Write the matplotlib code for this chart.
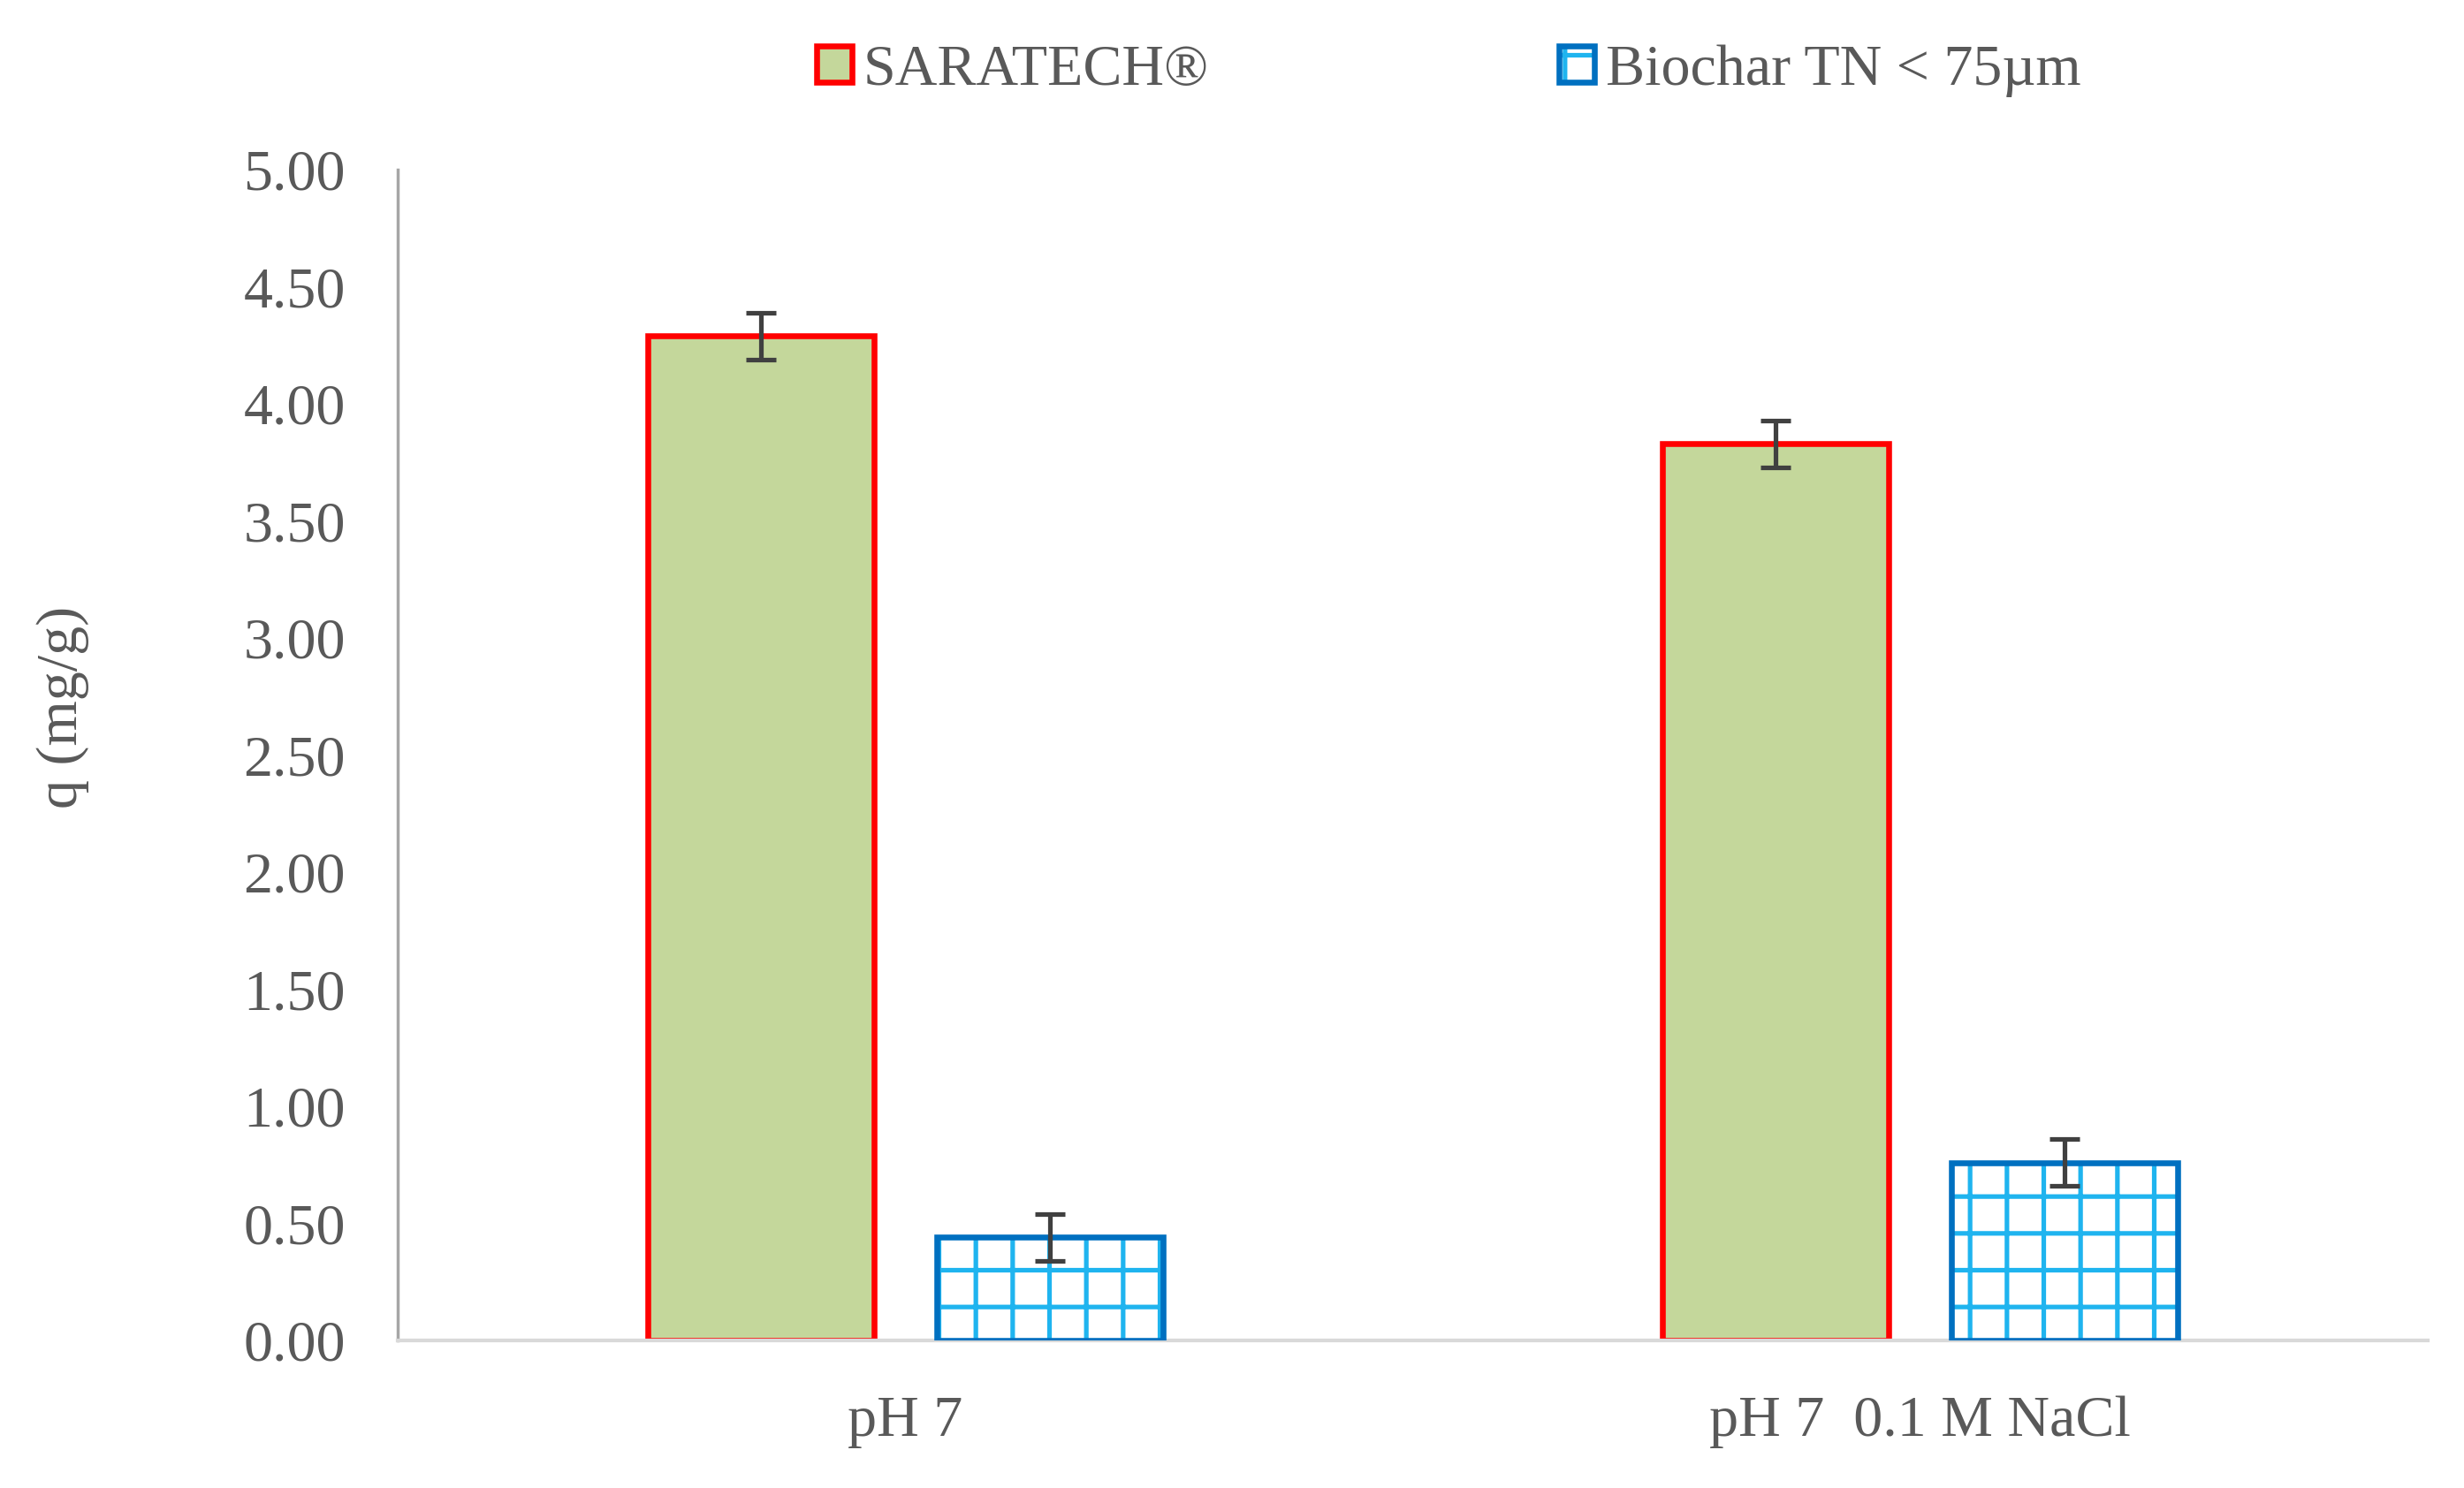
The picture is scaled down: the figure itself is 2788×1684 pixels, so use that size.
import matplotlib
matplotlib.use("Agg")
import matplotlib.pyplot as plt
import numpy as np

# data
categories = ["pH 7", "pH 7  0.1 M NaCl"]
saratech = [4.29, 3.83]
saratech_err = [0.10, 0.10]
biochar = [0.44, 0.76]
biochar_err = [0.10, 0.10]
series_names = ["SARATECH®", "Biochar TN < 75µm"]
yticks = np.arange(0, 5.01, 0.5)

grey_txt = "#595959"
plt.rcParams["font.family"] = ["Liberation Serif", "DejaVu Serif"]
plt.rcParams["hatch.linewidth"] = 1.5
plt.rcParams["hatch.color"] = "#1fb4ef"

fig = plt.figure(figsize=(2788 / 250, 1684 / 250), dpi=250)
ax = fig.add_axes([0.1614, 0.0992, 0.9853 - 0.1614, 0.886 - 0.0992])

x = np.arange(len(categories))
w = 0.223
off = 0.1424

green = ax.bar(x - off, saratech, w, color="#c4d79b", edgecolor="#ff0000",
               linewidth=1.9, zorder=2)
blue_h = ax.bar(x + off, biochar, w, color="white", edgecolor="#1fb4ef",
                hatch="+", linewidth=0, zorder=2)
blue_e = ax.bar(x + off, biochar, w, color="none", edgecolor="#0070c0",
                linewidth=1.9, zorder=3)

ax.errorbar(x - off, saratech, yerr=saratech_err, fmt="none", ecolor="#404040",
            elinewidth=1.5, capsize=4.8, capthick=1.5, zorder=4)
ax.errorbar(x + off, biochar, yerr=biochar_err, fmt="none", ecolor="#404040",
            elinewidth=1.5, capsize=4.8, capthick=1.5, zorder=4)

ax.set_xlim(-0.5, 1.5)
ax.set_ylim(0, 5.0)
ax.set_yticks(yticks)
ax.set_yticklabels([f"{v:.2f}" for v in yticks])
ax.set_xticks(x)
ax.set_xticklabels(categories)
ax.tick_params(axis="both", length=0, labelsize=19, labelcolor=grey_txt)
ax.tick_params(axis="y", pad=17)
ax.tick_params(axis="x", pad=18)

for s in ["top", "right"]:
    ax.spines[s].set_visible(False)
ax.spines["left"].set_color("#a6a6a6")
ax.spines["left"].set_linewidth(1.0)
ax.spines["bottom"].set_color("#d9d9d9")
ax.spines["bottom"].set_linewidth(1.2)

fig.text(71 / 2788, 1 - 800 / 1684, "q (mg/g)", rotation=90, fontsize=19,
         color=grey_txt, ha="center", va="center")

fig.legend([green, (blue_h, blue_e)], series_names, ncol=2, loc="center",
           bbox_to_anchor=(0.588, 1 - 80 / 1684), frameon=False, fontsize=19,
           labelcolor=grey_txt, handlelength=0.6, handleheight=0.6,
           handletextpad=0.2, columnspacing=6.0)

fig.savefig("out.png", dpi=250)
